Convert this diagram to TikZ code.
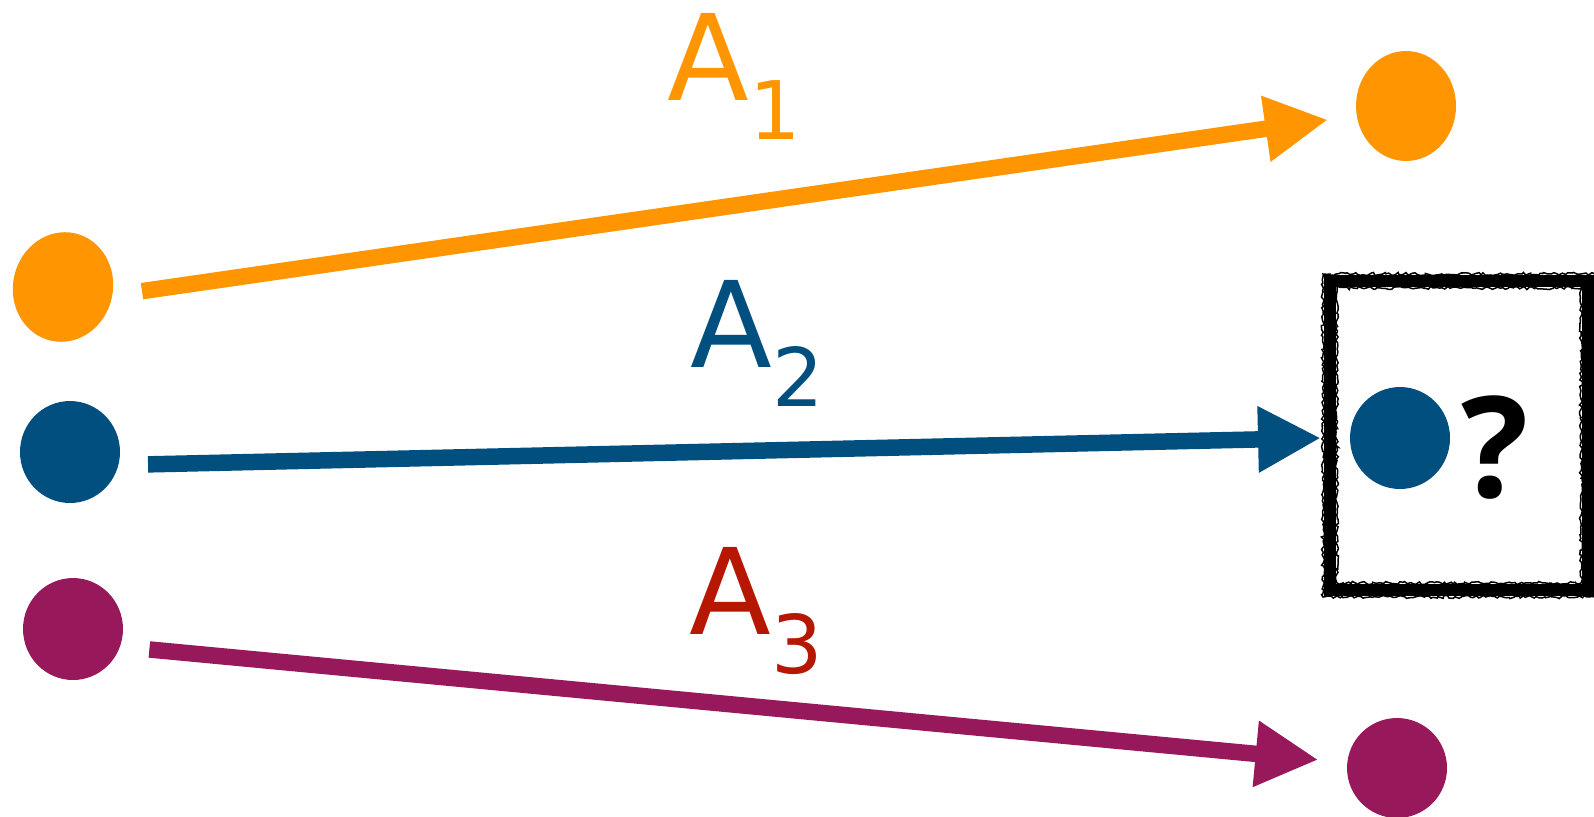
\documentclass[tikz,border=0pt]{standalone}
\usepackage{fontspec}
\setmainfont{DejaVu Sans}
\newfontfamily\qfont{Open Sans}
\usepackage{tikz}
\usetikzlibrary{arrows.meta,shapes.geometric,decorations.pathmorphing}
\definecolor{dotorange}{RGB}{255,149,0}
\definecolor{dotblue}{RGB}{0,79,127}
\definecolor{dotpurple}{RGB}{152,25,91}
\definecolor{lblred}{RGB}{181,23,0}
\newcommand{\albl}[1]{A\raisebox{-0.78cm}{\fontsize{46}{46}\selectfont #1}}

\begin{document}
\begin{tikzpicture}[
  x=0.02cm, y=-0.02cm,
  dot/.style={ellipse, inner sep=0pt, outer sep=0.58cm,
    minimum width=2cm, minimum height=2.04cm},
  arr/.style={-{Triangle[length=1.26cm,width=1.24cm]}, line width=0.33cm},
  lbl/.style={anchor=base west, inner sep=0pt,
    font=\fontsize{68}{68}\selectfont},
  brush/.style={line width=0.03cm, decorate,
    decoration={random steps, segment length=1.5pt, amplitude=0.9pt}}
]
  \useasboundingbox (0,0) rectangle (1594,816);
  \pgfmathsetseed{11}

  \node[dot, fill=dotorange, minimum height=2.2cm, rotate=-12] (o1) at (63,287)  {};
  \node[dot, fill=dotblue]                         (b1) at (70,452)  {};
  \node[dot, fill=dotpurple]                       (p1) at (73,629)  {};
  \node[dot, fill=dotorange, minimum height=2.2cm] (o2) at (1406,106) {};
  \node[dot, fill=dotblue]                         (b2) at (1400,438) {};
  \node[dot, fill=dotpurple, minimum height=2cm]   (p2) at (1397,768) {};

  \node[lbl, dotorange] (a1) at (667,100) {\albl{1}};
  \node[lbl, dotblue]   (a2) at (690,367) {\albl{2}};
  \node[lbl, lblred]    (a3) at (689,634) {\albl{3}};

  \draw[arr, dotorange] (o1.9)   -- (o2.190);
  \draw[arr, dotblue]   (b1.-9)  -- (b2.west);
  \draw[arr, dotpurple] (p1.-15) -- (p2.174);

  \node[font=\fontsize{80}{80}\qfont\bfseries] (q) at (1495,448) {?};
  \draw[line width=0.24cm] (1330,281) rectangle (1588,590);
  \foreach \d in {-7,-4,4,7}
    \draw[brush] (1330-\d,281-\d) rectangle (1588+\d,590+\d);
\end{tikzpicture}
\end{document}
